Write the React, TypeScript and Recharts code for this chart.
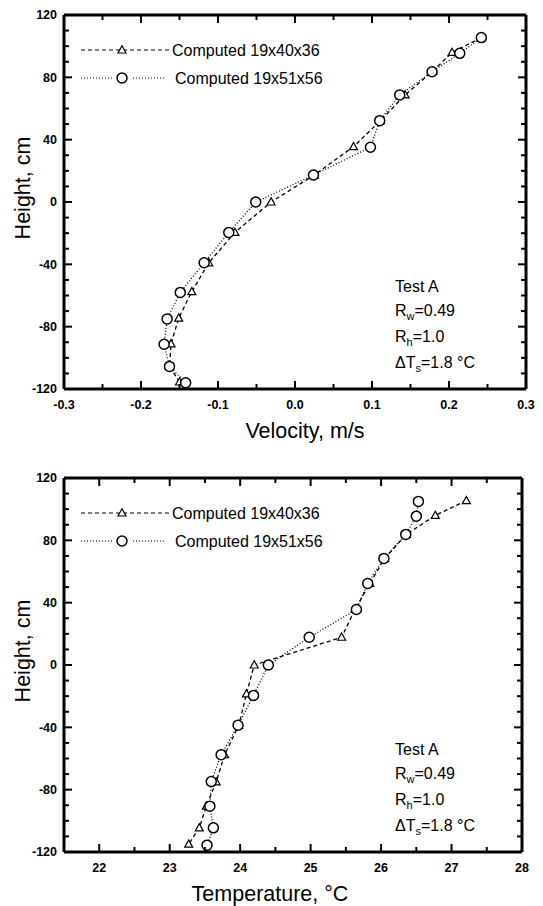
import { Label, Legend, Scatter, ScatterChart, XAxis, YAxis } from 'recharts';

const FONT = '"Liberation Sans", Arial, Helvetica, sans-serif';

const seriesNames = ['Computed 19x40x36', 'Computed 19x51x56'];

// velocity profile, heights in cm (top to bottom)
const velHeightsCoarse = [105.5, 96, 84, 68.7, 52.2, 35.5, 17.3, 0, -19.5, -39, -57.5, -74.5, -91, -105.5, -115.5];
const velCoarse = [0.242, 0.204, 0.179, 0.143, 0.111, 0.076, 0.025, -0.031, -0.078, -0.112, -0.134, -0.151, -0.161, -0.163, -0.15];
const velHeightsFine = [105.5, 95.4, 83.6, 68.7, 52.2, 35.1, 17.3, 0, -19.5, -39, -58, -75, -91.3, -105.5, -116];
const velFine = [0.242, 0.214, 0.178, 0.136, 0.11, 0.098, 0.024, -0.051, -0.086, -0.118, -0.149, -0.166, -0.17, -0.163, -0.142];

// temperature profile
const tempHeightsCoarse = [105.5, 96, 83.8, 68.4, 52.3, 35.6, 17.8, 0, -18.5, -38.7, -57.6, -75, -90.6, -104.5, -115];
const tempCoarse = [27.21, 26.77, 26.36, 26.05, 25.84, 25.63, 25.44, 24.2, 24.09, 23.98, 23.78, 23.66, 23.52, 23.42, 23.27];
const tempHeightsFine = [105, 95.5, 83.8, 68.4, 52.3, 35.6, 17.8, 0, -19.5, -38.7, -57.6, -74.8, -90.6, -104.5, -115.6];
const tempFine = [26.53, 26.5, 26.35, 26.04, 25.81, 25.65, 24.98, 24.4, 24.19, 23.97, 23.73, 23.59, 23.57, 23.62, 23.53];

const heightTicks = [-120, -110, -100, -90, -80, -70, -60, -50, -40, -30, -20, -10, 0, 10, 20, 30, 40, 50, 60, 70, 80, 90, 100, 110, 120];
const velocityTicks = [-0.3, -0.25, -0.2, -0.15, -0.1, -0.05, 0, 0.05, 0.1, 0.15, 0.2, 0.25, 0.3];
const temperatureTicks = [21.5, 22, 22.5, 23, 23.5, 24, 24.5, 25, 25.5, 26, 26.5, 27, 27.5, 28];

const noteLines = ['Test A', 'R|w|=0.49', 'R|h|=1.0', 'ΔT|s|=1.8 °C'];

const toPoints = (xs: number[], hs: number[]) => xs.map((x, i) => ({ x, y: hs[i] }));

const isMajor = (v: number, step: number) => Math.abs(v / step - Math.round(v / step)) < 1e-6;

const Tri = ({ cx, cy }: { cx: number; cy: number }) => (
  <path d={`M${cx},${cy - 4.2} L${cx + 4},${cy + 3} L${cx - 4},${cy + 3} Z`} fill="#fff" stroke="#000" strokeWidth={1.2} />
);
const Ring = ({ cx, cy }: { cx: number; cy: number }) => (
  <circle cx={cx} cy={cy} r={5} fill="#fff" stroke="#000" strokeWidth={1.5} />
);

type Side = 'top' | 'bottom' | 'left' | 'right';

// inward ticks, long on major values, short on minor ones
const makeTick = (side: Side, step: number, fmt?: (v: number) => string) => (p: any) => {
  const x = Number(p.x);
  const y = Number(p.y);
  const v = Number(p.payload.value);
  const major = isMajor(v, step);
  const len = major ? 8 : 5;
  const dx = side === 'left' ? len : side === 'right' ? -len : 0;
  const dy = side === 'top' ? len : side === 'bottom' ? -len : 0;
  let label = null;
  if (major && fmt && side === 'bottom') {
    label = (
      <text x={x} y={y + 16} dy="0.35em" textAnchor="middle" fontSize={12.5} fontWeight="bold" fontFamily={FONT} fill="#000">
        {fmt(v)}
      </text>
    );
  }
  if (major && fmt && side === 'left') {
    label = (
      <text x={x - 7} y={y} dy="0.35em" textAnchor="end" fontSize={12.5} fontWeight="bold" fontFamily={FONT} fill="#000">
        {fmt(v)}
      </text>
    );
  }
  return (
    <g>
      <line x1={x} y1={y} x2={x + dx} y2={y + dy} stroke="#000" strokeWidth={2} />
      {label}
    </g>
  );
};

const frame = { stroke: '#000', strokeWidth: 3 };

const legendContent = () => (
  <svg width={270} height={50} style={{ display: 'block', overflow: 'visible' }}>
    <line x1={0} x2={89} y1={10} y2={10} stroke="#000" strokeWidth={1.2} strokeDasharray="4 3" />
    <Tri cx={41} cy={10} />
    <text x={91} y={10} dy="0.35em" fontSize={16} fontFamily={FONT} fill="#000">{seriesNames[0]}</text>
    <line x1={0} x2={31} y1={38} y2={38} stroke="#000" strokeWidth={1.2} strokeDasharray="1 2" />
    <line x1={52} x2={85} y1={38} y2={38} stroke="#000" strokeWidth={1.2} strokeDasharray="1 2" />
    <Ring cx={41} cy={38} />
    <text x={94} y={38} dy="0.35em" fontSize={16} fontFamily={FONT} fill="#000">{seriesNames[1]}</text>
  </svg>
);

function Notes() {
  const centers = [287, 311, 337, 363];
  return (
    <>
      {noteLines.map((t, i) => {
        const [a, sub, b] = t.split('|');
        return (
          <div
            key={t}
            style={{ position: 'absolute', left: 395, top: centers[i] - 9, lineHeight: '18px', fontSize: 16, fontFamily: FONT, whiteSpace: 'nowrap', color: '#000' }}
          >
            {a}
            {sub !== undefined && <span style={{ fontSize: 11, position: 'relative', top: 4 }}>{sub}</span>}
            {b}
          </div>
        );
      })}
    </>
  );
}

type ChartProps = {
  coarse: { x: number; y: number }[];
  fine: { x: number; y: number }[];
  xDomain: [number, number];
  xTicks: number[];
  xStep: number;
  xFmt: (v: number) => string;
  xTitle: string;
  titleDx: number;
  plotRight: number;
  height: number;
};

function ProfileChart({ coarse, fine, xDomain, xTicks, xStep, xFmt, xTitle, titleDx, plotRight, height }: ChartProps) {
  const W = 543;
  const plotTop = 15;
  const plotBottom = 389;
  return (
    <ScatterChart width={W} height={height} margin={{ top: 0, right: 0, bottom: 0, left: 0 }}>
      <XAxis
        xAxisId="t"
        orientation="top"
        type="number"
        dataKey="x"
        domain={xDomain}
        ticks={xTicks}
        interval={0}
        height={plotTop}
        tickSize={0}
        tickMargin={0}
        tickLine={false}
        axisLine={frame}
        tick={makeTick('top', xStep)}
      />
      <XAxis
        xAxisId="b"
        orientation="bottom"
        type="number"
        dataKey="x"
        domain={xDomain}
        ticks={xTicks}
        interval={0}
        height={height - plotBottom}
        tickSize={0}
        tickMargin={0}
        tickLine={false}
        axisLine={frame}
        tick={makeTick('bottom', xStep, xFmt)}
      >
        <Label
          content={(lp: any) => {
            const vb = lp.viewBox;
            return (
              <text x={vb.x + vb.width / 2 + titleDx} y={vb.y + 49} textAnchor="middle" fontSize={21.5} fontFamily={FONT} fill="#000">
                {xTitle}
              </text>
            );
          }}
        />
      </XAxis>
      <YAxis
        yAxisId="l"
        orientation="left"
        type="number"
        dataKey="y"
        domain={[-120, 120]}
        ticks={heightTicks}
        interval={0}
        width={64}
        tickSize={0}
        tickMargin={0}
        tickLine={false}
        axisLine={frame}
        tick={makeTick('left', 40, (v) => String(v))}
      >
        <Label
          content={(lp: any) => {
            const vb = lp.viewBox;
            const cy = vb.y + vb.height / 2 - 14;
            return (
              <text x={30} y={cy} transform={`rotate(-90, 30, ${cy})`} textAnchor="middle" fontSize={21.5} fontFamily={FONT} fill="#000">
                Height, cm
              </text>
            );
          }}
        />
      </YAxis>
      <YAxis
        yAxisId="r"
        orientation="right"
        type="number"
        dataKey="y"
        domain={[-120, 120]}
        ticks={heightTicks}
        interval={0}
        width={W - plotRight}
        tickSize={0}
        tickMargin={0}
        tickLine={false}
        axisLine={frame}
        tick={makeTick('right', 40)}
      />
      <Legend
        layout="vertical"
        align="center"
        verticalAlign="middle"
        content={legendContent}
        wrapperStyle={{ left: 81, top: 40, width: 270, height: 50 }}
      />
      {/* top and right axes share the same domains, so the coarse grid is drawn on them to get their ticks rendered */}
      <Scatter
        name={seriesNames[0]}
        xAxisId="t"
        yAxisId="r"
        data={coarse}
        isAnimationActive={false}
        line={{ stroke: '#000', strokeWidth: 1.3, strokeDasharray: '4 3' }}
        lineType="joint"
        shape={(p: any) => <Tri cx={p.cx} cy={p.cy} />}
      />
      <Scatter
        name={seriesNames[1]}
        xAxisId="b"
        yAxisId="l"
        data={fine}
        isAnimationActive={false}
        line={{ stroke: '#000', strokeWidth: 1.3, strokeDasharray: '1 2' }}
        lineType="joint"
        shape={(p: any) => <Ring cx={p.cx} cy={p.cy} />}
      />
    </ScatterChart>
  );
}

export default function App() {
  return (
    <div style={{ position: 'absolute', left: 0, top: 0, width: 543, height: 906, background: '#fff', fontFamily: FONT }}>
      <div style={{ position: 'absolute', left: 0, top: 0 }}>
        <ProfileChart
          coarse={toPoints(velCoarse, velHeightsCoarse)}
          fine={toPoints(velFine, velHeightsFine)}
          xDomain={[-0.3, 0.3]}
          xTicks={velocityTicks}
          xStep={0.1}
          xFmt={(v) => v.toFixed(1)}
          xTitle="Velocity, m/s"
          titleDx={10}
          plotRight={526}
          height={450}
        />
        <Notes />
      </div>
      <div style={{ position: 'absolute', left: 0, top: 463 }}>
        <ProfileChart
          coarse={toPoints(tempCoarse, tempHeightsCoarse)}
          fine={toPoints(tempFine, tempHeightsFine)}
          xDomain={[21.5, 28]}
          xTicks={temperatureTicks}
          xStep={1}
          xFmt={(v) => String(v)}
          xTitle="Temperature, °C"
          titleDx={-23}
          plotRight={522}
          height={443}
        />
        <Notes />
      </div>
    </div>
  );
}
